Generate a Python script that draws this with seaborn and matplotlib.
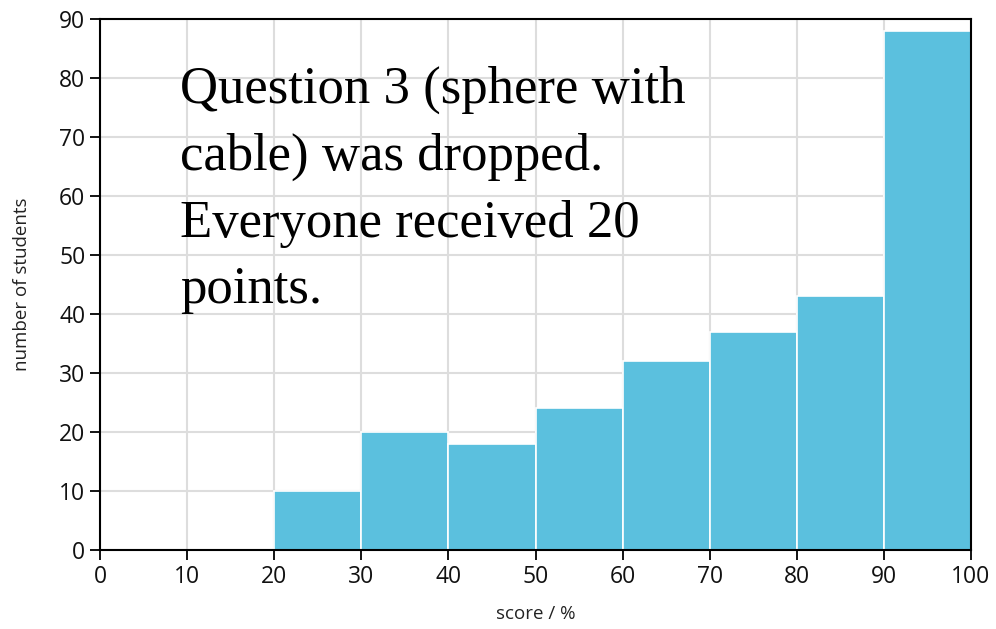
import matplotlib
matplotlib.use("Agg")
import matplotlib.pyplot as plt
import seaborn as sns
import numpy as np

bin_edges = [20, 30, 40, 50, 60, 70, 80, 90, 100]
counts = [10, 20, 18, 24, 32, 37, 43, 88]
x_ticks = [0, 10, 20, 30, 40, 50, 60, 70, 80, 90, 100]
y_ticks = [0, 10, 20, 30, 40, 50, 60, 70, 80, 90]
note = "Question 3 (sphere with\ncable) was dropped.\nEveryone received 20\npoints."

sns.set_theme(style="white")
plt.rcParams['font.family'] = ['Open Sans', 'DejaVu Sans']

fig = plt.figure(figsize=(9.96, 6.29), dpi=100)
ax = fig.add_axes([100/996, 1-550/629, 871/996, 531/629])

centers = [(a + b) / 2 for a, b in zip(bin_edges[:-1], bin_edges[1:])]
sns.histplot(x=centers, weights=counts, bins=bin_edges, ax=ax,
             color="#5bc0de", alpha=1.0, edgecolor="white", linewidth=1.2, zorder=2)

ax.set_xlim(0, 100)
ax.set_ylim(0, 90)
ax.set_xticks(x_ticks)
ax.set_yticks(y_ticks)
ax.grid(True, color="#dddddd", linewidth=1.5, zorder=0)
ax.set_axisbelow(True)
for s in ax.spines.values():
    s.set_color("black")
    s.set_linewidth(1.5)
ax.tick_params(axis="both", which="both", direction="out", length=7, width=1.3,
               color="black", labelsize=16.5, labelcolor="#111111", bottom=True, left=True)
ax.set_xlabel("score / %", fontsize=13.5, color="#222222", labelpad=12)
ax.set_ylabel("number of students", fontsize=13.5, color="#222222", labelpad=20)

ax.text(9.2, 82.0, note, fontsize=38, family=["Liberation Serif", "DejaVu Serif"],
        va="top", ha="left", linespacing=1.5, color="black", zorder=3)

fig.savefig("out.png", dpi=100)
